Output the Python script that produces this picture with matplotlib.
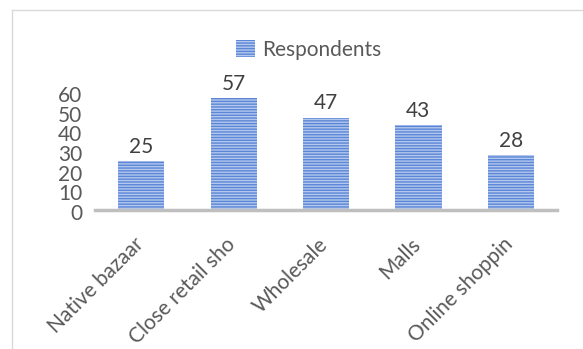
import matplotlib
matplotlib.use("Agg")
import matplotlib.pyplot as plt
from matplotlib.lines import Line2D
from matplotlib.patches import Patch
from matplotlib.transforms import ScaledTranslation

categories = ["Native bazaar", "Close retail sho", "Wholesale", "Malls", "Online shoppin"]
respondents = [25, 57, 47, 43, 28]
yticks = [0, 10, 20, 30, 40, 50, 60]

plt.rcParams['font.family'] = ['Lato', 'DejaVu Sans']
plt.rcParams['hatch.linewidth'] = 1.0
text_color = '#595959'
fs = 15

W, H = 583, 349
fig = plt.figure(figsize=(W / 100, H / 100), dpi=100)
fig.patch.set_facecolor('white')

# chart border (left and top visible)
fig.add_artist(Line2D([11.5 / W, 11.5 / W], [0, 1 - 9.5 / H], color='#d9d9d9', lw=1))
fig.add_artist(Line2D([11.5 / W, 1], [1 - 9.5 / H, 1 - 9.5 / H], color='#d9d9d9', lw=1))

ax = fig.add_axes([95 / W, 1 - 210 / H, (557 - 95) / W, (210 - 92) / H])
x = range(len(categories))
bars = ax.bar(x, respondents, width=0.5, facecolor='#b4c7ec', edgecolor='#5b86d8',
              hatch='------', linewidth=0, label='Respondents')
ax.set_xlim(-0.5, len(categories) - 0.5)
ax.set_ylim(0, 60)
ax.set_yticks(yticks)
ax.set_yticklabels([str(v) for v in yticks], fontsize=fs, color=text_color)
ax.tick_params(axis='y', length=0, pad=9)
ax.tick_params(axis='x', length=0, pad=16)
ax.set_xticks(list(x))
ax.set_xticklabels(categories, rotation=45, ha='right', va='top', rotation_mode='anchor',
                   fontsize=fs, color=text_color)
shift = ScaledTranslation(0, -2 / 100, fig.dpi_scale_trans)
for lbl in ax.get_yticklabels():
    lbl.set_transform(lbl.get_transform() + shift)
xshift = ScaledTranslation(-8 / 100, -2 / 100, fig.dpi_scale_trans)
for lbl in ax.get_xticklabels():
    lbl.set_transform(lbl.get_transform() + xshift)
for s in ['top', 'right', 'left']:
    ax.spines[s].set_visible(False)
ax.spines['bottom'].set_color('#bfbfbf')
ax.spines['bottom'].set_linewidth(2.5)
ax.spines['bottom'].set_zorder(5)

for b, v in zip(bars, respondents):
    ax.annotate(str(v), (b.get_x() + b.get_width() / 2, v), xytext=(0, 3),
                textcoords='offset points', ha='center', va='bottom', fontsize=fs,
                color='#404040')

handle = Patch(facecolor='#b4c7ec', edgecolor='#5b86d8', hatch='------', linewidth=0)
fig.legend([handle], ['Respondents'], loc='center', bbox_to_anchor=(309 / W, 1 - 50 / H),
           frameon=False, fontsize=fs, handlelength=0.9, handleheight=0.9,
           handletextpad=0.35, labelcolor=text_color)

fig.savefig('out.png', dpi=100)
